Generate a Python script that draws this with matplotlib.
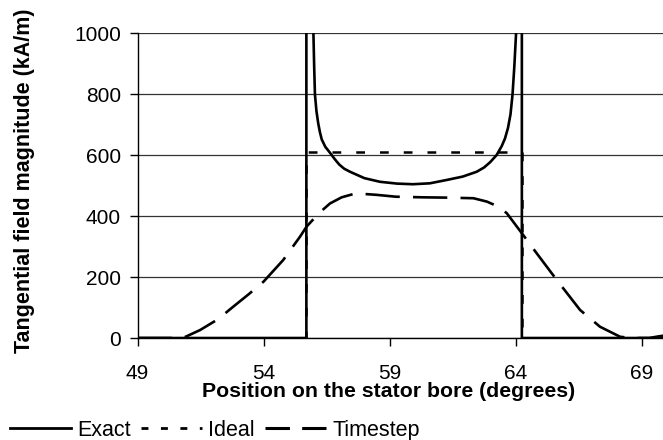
import matplotlib
matplotlib.use("Agg")
import matplotlib.pyplot as plt
from matplotlib.lines import Line2D

plt.rcParams['font.family'] = ['Liberation Sans', 'DejaVu Sans']

# Exact solution (goes off the top of the chart at both edges)
exact_x = [49.0, 55.70, 55.70, 55.90, 55.98, 56.01, 56.04, 56.10, 56.17, 56.24, 56.31,
           56.45, 56.64, 56.82, 57.00, 57.20, 57.43, 58.00, 58.62, 59.30, 59.93, 60.60,
           61.27, 61.90, 62.46, 62.75, 63.00, 63.25, 63.45, 63.58, 63.70, 63.80, 63.88,
           63.95, 64.02, 64.10, 64.25, 64.25, 69.9]
exact_y = [0, 0, 5000, 5000, 1000, 890, 800, 745, 705, 675, 652,
           628, 608, 588, 570, 556, 546, 525, 513, 507, 505, 508,
           519, 530, 546, 560, 578, 601, 630, 655, 690, 735, 800,
           890, 1000, 5000, 5000, 0, 0]

# Ideal solution
ideal_x = [49.0, 55.70, 55.70, 64.25, 64.25, 69.9]
ideal_y = [0, 0, 612, 612, 0, 0]

# Timestep solution
timestep_x = [49.0, 50.8, 51.48, 52.2, 52.8, 53.4, 54.0, 54.78, 55.45, 55.71, 56.2,
              56.64, 57.1, 57.66, 58.5, 59.25, 60.3, 61.27, 62.33, 62.86, 63.30, 63.65,
              63.85, 64.25, 64.84, 65.64, 66.56, 67.35, 68.15, 68.6, 69.3, 69.65, 69.9]
timestep_y = [0, 0, 26, 62, 103, 143, 185, 256, 333, 366, 410,
              442, 462, 475, 470, 464, 462, 461, 459, 448, 432, 410,
              388, 344, 278, 190, 92, 37, 4, 0, 0, 5, 8]

xticks = [49, 54, 59, 64, 69]
yticks = [0, 200, 400, 600, 800, 1000]

fig = plt.figure(figsize=(6.63, 4.40), dpi=100)
ax = fig.add_axes([0.2074, 0.2318, 0.7926, 0.6921])

ax.plot(exact_x, exact_y, color='black', lw=1.9, solid_joinstyle='round')
ax.plot(ideal_x, ideal_y, color='black', lw=1.8, dashes=(3.5, 6))
ax.plot(timestep_x, timestep_y, color='black', lw=1.9, dashes=(13, 5))

ax.set_xlim(49, 69.85)
ax.set_ylim(0, 1000)
ax.set_xticks(xticks)
ax.set_yticks(yticks)
ax.yaxis.grid(True, color='#333333', lw=0.9)
ax.set_axisbelow(True)
for s in ['top', 'right']:
    ax.spines[s].set_visible(False)
ax.spines['left'].set_linewidth(1.0)
ax.spines['bottom'].set_linewidth(1.0)
ax.tick_params(direction='out', length=6, width=1.0, labelsize=15)
ax.tick_params(axis='x', pad=13)
ax.tick_params(axis='y', pad=6)
ax.set_xlabel("Position on the stator bore (degrees)", fontsize=15.3, fontweight='bold', labelpad=-1)
ax.set_ylabel("Tangential field magnitude (kA/m)", fontsize=15.5, fontweight='bold', labelpad=28)
ax.xaxis.label.set_x(0.4786)
ax.yaxis.label.set_y(0.5156)

handles = [Line2D([], [], color='black', lw=2.0),
           Line2D([], [], color='black', lw=2.0, dashes=(2.5, 4.5)),
           Line2D([], [], color='black', lw=2.2, dashes=(8, 4))]
fig.legend(handles, ["Exact", "Ideal", "Timestep"], loc='lower left',
           bbox_to_anchor=(10 / 663, -1 / 440), ncol=3, frameon=False, fontsize=15.5,
           handlelength=2.85, handletextpad=0.28, columnspacing=0.46, borderpad=0,
           borderaxespad=0)

fig.savefig("out.png", dpi=100)
